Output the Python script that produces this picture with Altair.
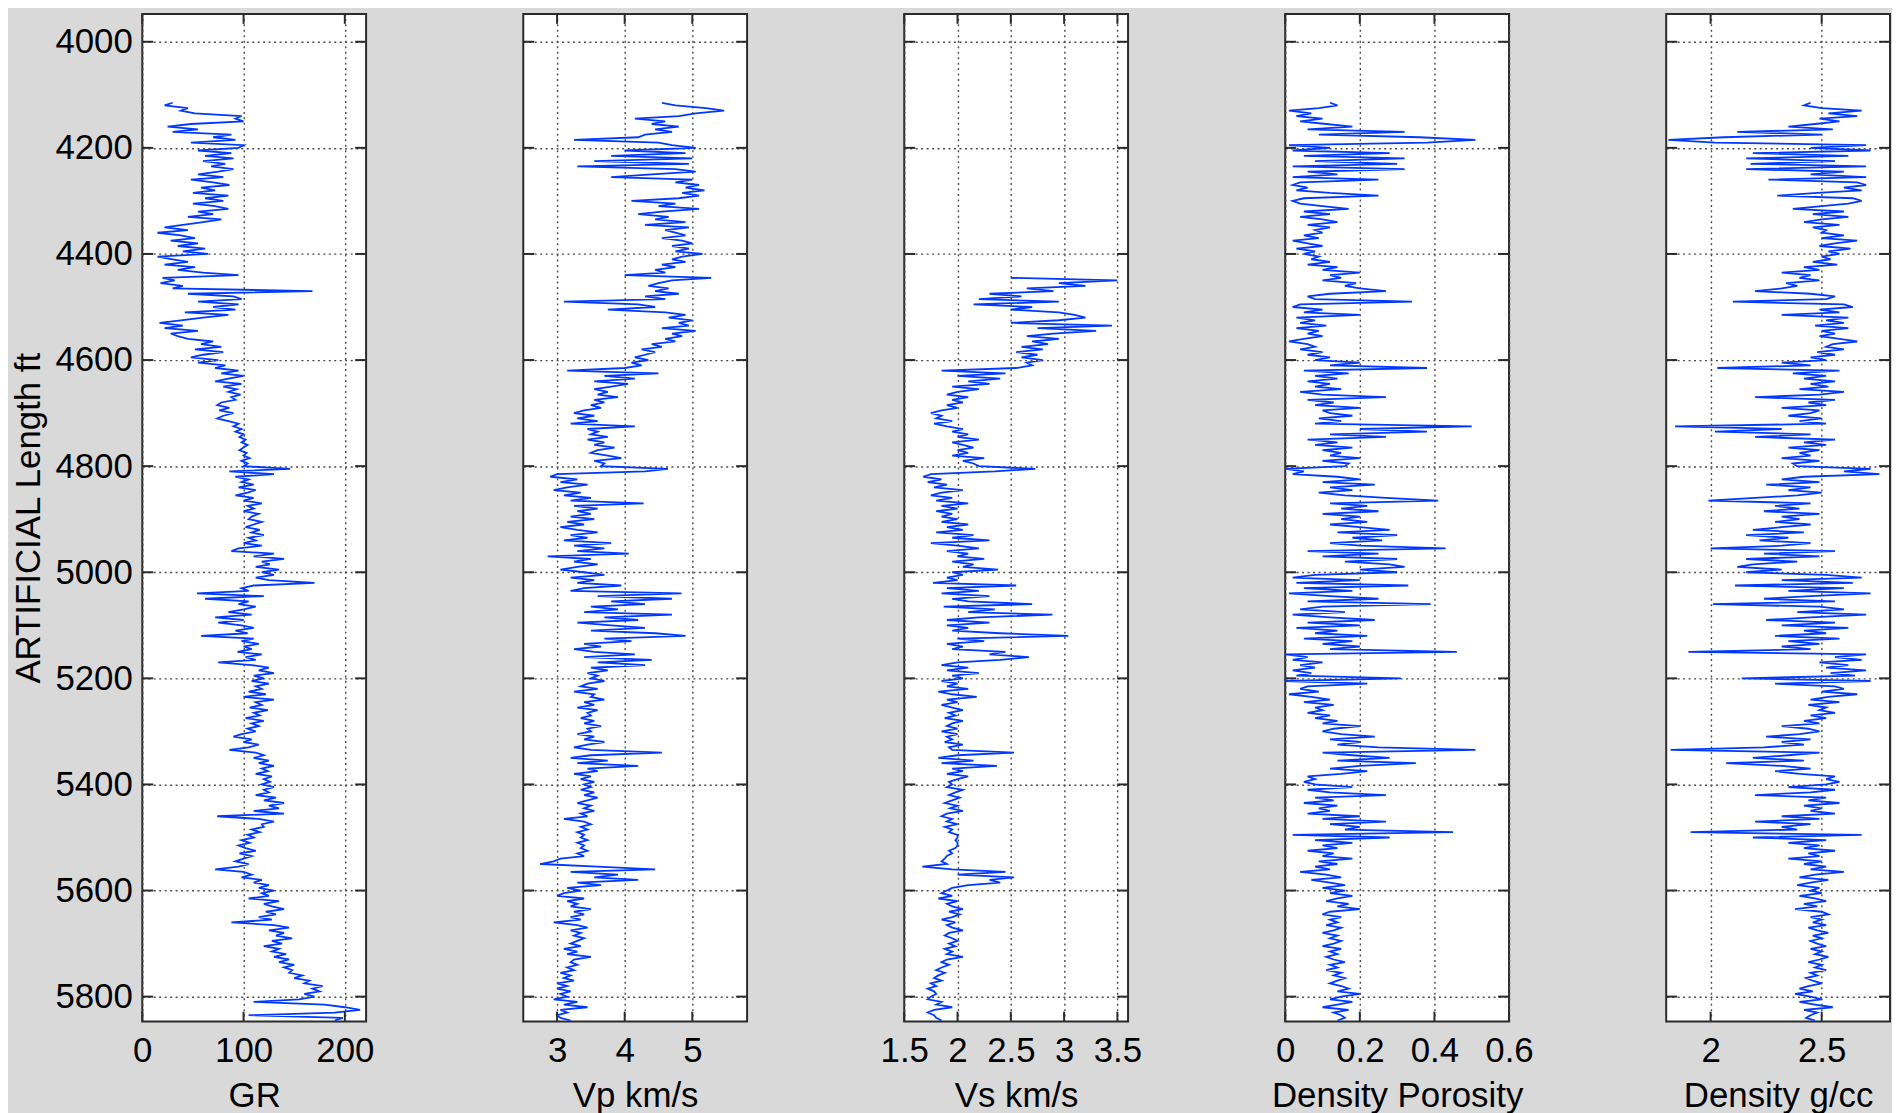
import altair as alt
import pandas as pd

# ---------------- data (5 ft sampling) ----------------
DEPTH_START = 4115   # first sample of GR, Vp, DPHI, RHOB
VS_START = 4445      # first sample of Vs
STEP = 5

GR = [
    30, 22, 45, 38, 52, 98, 92, 100, 48, 25, 55, 30, 88, 70, 92, 48, 100,
    95, 55, 88, 62, 90, 60, 82, 68, 90, 75, 55, 80, 48, 70, 86, 58, 72, 50, 85, 62,
    80, 50, 72, 85, 55, 70, 45, 78, 60, 40, 22, 45, 15, 38, 52, 28, 55, 35, 62, 40,
    65, 15, 30, 45, 22, 52, 35, 60, 95, 20, 32, 18, 40, 30, 168, 45, 90, 98, 55, 95,
    70, 92, 42, 85, 60, 38, 17, 40, 22, 55, 28, 35, 45, 70, 58, 78, 52, 80, 60, 48,
    75, 55, 82, 72, 95, 78, 100, 85, 72, 98, 80, 93, 85, 97, 88, 92, 78, 74, 86, 76,
    90, 80, 74, 85, 95, 90, 98, 92, 100, 96, 102, 98, 104, 100, 96, 103, 100, 106, 98, 104,
    100, 146, 86, 130, 92, 105, 98, 110, 95, 112, 104, 92, 110, 100, 118, 104, 110, 100, 115, 108,
    105, 118, 110, 102, 116, 108, 120, 105, 112, 100, 118, 95, 88, 130, 110, 140, 118, 126, 112, 135,
    118, 130, 112, 125, 170, 110, 98, 105, 54, 120, 62, 105, 95, 112, 100, 85, 108, 72, 100, 75,
    98, 110, 92, 104, 58, 110, 98, 115, 100, 108, 94, 118, 102, 112, 75, 108, 125, 115, 130, 110,
    120, 108, 125, 112, 118, 105, 122, 100, 130, 112, 118, 106, 124, 110, 116, 102, 120, 108, 115, 104,
    112, 98, 90, 108, 100, 115, 105, 86, 112, 120, 110, 125, 115, 130, 118, 124, 112, 128, 120, 126,
    118, 130, 120, 125, 112, 132, 120, 140, 125, 135, 110, 140, 74, 115, 130, 118, 120, 108, 116, 104,
    110, 98, 106, 95, 102, 112, 96, 108, 100, 92, 105, 95, 72, 100, 108, 98, 118, 110, 125, 115,
    130, 118, 125, 105, 135, 120, 128, 140, 122, 132, 115, 128, 88, 130, 145, 125, 140, 132, 148, 128,
    138, 120, 135, 128, 142, 130, 145, 135, 150, 140, 148, 145, 158, 150, 165, 160, 178, 168, 175, 160,
    170, 155, 110, 180, 200, 215, 190, 105, 198, 190,
]

VP = [
    4.55, 4.75, 5.2, 5.47, 5.05, 4.8, 4.15, 4.6, 4.4, 4.8, 4.45, 4.7, 4.3, 4.2, 3.25, 4.5, 4.7,
    5.05, 4.0, 4.9, 3.8, 5.0, 3.55, 4.95, 3.3, 4.75, 5.05, 4.4, 3.8, 5.0, 4.75, 5.1, 4.9, 5.18, 4.85, 5.1, 4.8,
    4.1, 4.75, 4.5, 5.1, 4.55, 4.2, 4.65, 4.45, 4.9, 4.3, 4.95, 4.6, 4.75, 4.9, 4.55, 4.85, 5.0, 4.7, 4.95, 4.75,
    5.15, 4.85, 4.7, 4.9, 4.55, 4.75, 4.45, 4.6, 4.0, 5.28, 4.7, 4.5, 4.35, 4.65, 4.45, 4.8, 4.3, 4.6, 3.1, 4.2,
    4.45, 3.75, 4.6, 4.9, 4.65, 5.0, 4.8, 4.95, 4.55, 5.05, 4.7, 4.85, 4.6, 4.75, 4.4, 4.55, 4.25, 4.45, 4.3, 4.15,
    4.35, 4.1, 4.25, 4.0, 3.15, 4.5, 3.7, 4.15, 3.55, 4.05, 3.8, 3.55, 3.75, 3.6, 3.9, 3.55, 3.7, 3.5, 3.65, 3.4,
    3.25, 3.55, 3.3, 3.6, 3.2, 4.15, 3.45, 3.6, 3.5, 3.75, 3.45, 3.7, 3.55, 3.85, 3.6, 3.5, 3.75, 3.95, 3.55, 3.7,
    3.65, 4.64, 4.3, 3.0, 2.9, 3.3, 3.05, 3.45, 3.15, 2.95, 3.35, 3.1, 3.5, 3.2, 4.28, 3.25, 3.6, 3.3, 3.5, 3.2,
    3.55, 3.15, 3.4, 3.05, 3.3, 3.6, 3.2, 3.45, 3.1, 3.8, 3.25, 3.7, 3.3, 4.06, 2.86, 3.5, 3.25, 3.6, 3.3, 3.05,
    3.4, 3.7, 3.2, 3.55, 3.3, 3.95, 3.4, 3.2, 4.84, 3.6, 4.7, 3.8, 4.3, 3.5, 3.9, 3.4, 4.7, 3.7, 4.2, 3.3,
    3.8, 4.3, 3.5, 4.45, 4.9, 3.7, 4.1, 3.4, 3.65, 3.25, 3.55, 4.15, 3.4, 4.4, 3.6, 4.3, 3.5, 3.75, 3.45, 3.6,
    3.5, 3.7, 3.45, 3.35, 3.6, 3.25, 3.55, 3.5, 3.7, 3.4, 3.55, 3.3, 3.6, 3.45, 3.5, 3.35, 3.55, 3.4, 3.65, 3.45,
    3.5, 3.3, 3.55, 3.4, 3.7, 3.45, 3.25, 3.5, 4.55, 3.5, 3.2, 3.75, 3.3, 4.2, 3.45, 3.6, 3.25, 3.5, 3.35, 3.55,
    3.4, 3.5, 3.35, 3.55, 3.4, 3.6, 3.45, 3.3, 3.5, 3.4, 3.55, 3.35, 3.45, 3.1, 3.4, 3.5, 3.35, 3.45, 3.3, 3.4,
    3.35, 3.45, 3.3, 3.4, 3.35, 3.45, 3.3, 3.4, 3.05, 2.95, 2.75, 3.6, 4.45, 3.2, 3.9, 3.55, 4.2, 3.3, 3.65, 3.15,
    3.35, 3.1, 3.0, 3.4, 3.15, 3.3, 3.2, 3.5, 3.25, 3.4, 3.2, 3.35, 2.95, 3.3, 3.45, 3.2, 3.35, 3.25, 3.4, 3.3,
    3.2, 3.35, 3.1, 3.3, 3.15, 3.5, 3.25, 3.2, 3.3, 3.15, 3.25, 3.05, 3.2, 3.1, 3.25, 3.0, 3.15, 3.0, 3.2, 3.05,
    3.15, 2.95, 3.3, 3.1, 3.45, 3.05, 3.15, 3.0, 3.05, 3.2,
]

VS = [
    2.5, 3.5, 2.95, 3.2, 2.65, 2.9, 2.3, 2.6, 2.2, 2.95, 2.15,
    2.7, 2.5, 2.95, 3.1, 3.2, 2.95, 2.5, 3.45, 2.75, 3.3, 2.9, 2.65, 2.95, 2.7, 2.85, 2.6, 2.8, 2.55, 2.75, 2.6,
    2.8, 2.65, 2.7, 2.55, 1.85, 2.45, 2.0, 2.4, 2.1, 2.3, 1.95, 2.2, 2.0, 1.9, 2.1, 1.95, 2.05, 1.9, 2.0, 1.85,
    1.75, 1.85, 1.8, 1.95, 1.78, 1.9, 2.05, 1.95, 2.1, 2.0, 2.2, 1.95, 2.05, 2.15, 2.0, 2.1, 1.95, 2.25, 2.05, 2.15,
    2.2, 2.73, 2.35, 1.75, 1.68, 1.85, 1.72, 1.9, 1.78, 2.05, 1.85, 1.75, 1.95, 1.8, 2.1, 1.85, 2.0, 1.8, 1.95, 1.85,
    2.0, 1.85, 2.1, 1.9, 2.05, 1.8, 2.15, 1.95, 2.3, 1.75, 2.0, 2.2, 1.9, 2.1, 2.0, 2.25, 1.95, 2.15, 2.05, 2.38,
    1.95, 2.05, 1.9, 2.0, 1.77, 2.55, 1.9, 2.2, 1.85, 2.3, 1.95, 2.1, 2.7, 1.87, 2.35, 2.1, 2.89, 2.2, 1.9, 2.3,
    1.9, 2.1, 1.95, 2.4, 3.04, 2.0, 2.25, 1.9, 2.05, 1.95, 2.45, 2.3, 2.67, 2.4, 2.0, 1.85, 2.1, 1.9, 2.2, 1.95,
    2.05, 1.85, 2.0, 1.9, 2.1, 1.82, 1.95, 2.18, 1.9, 2.0, 1.85, 1.95, 2.05, 1.92, 1.98, 1.88, 2.05, 1.95, 1.9, 2.0,
    1.85, 2.0, 1.9, 1.95, 1.88, 2.05, 1.92, 1.95, 2.53, 2.0, 1.82, 2.15, 1.85, 2.37, 1.95, 2.05, 1.9, 2.1, 2.0, 1.92,
    1.95, 1.9, 2.05, 1.98, 1.92, 2.02, 1.95, 1.88, 2.0, 1.93, 2.05, 1.9, 1.85, 1.95, 1.9, 2.0, 1.88, 1.95, 1.92, 2.0,
    2.0, 1.98, 2.0, 2.0, 1.98, 1.92, 1.95, 1.9, 1.88, 1.85, 1.9, 1.67, 1.95, 2.45, 2.0, 2.53, 2.3, 2.4, 2.1, 1.95,
    1.9, 1.85, 1.95, 1.82, 2.0, 1.9, 1.95, 2.05, 1.92, 2.02, 1.95, 1.85, 1.98, 1.9, 1.95, 2.05, 1.92, 1.88, 1.95, 2.0,
    1.92, 1.98, 1.88, 1.95, 1.9, 2.05, 1.9, 1.85, 1.92, 1.85, 1.8, 1.88, 1.82, 1.78, 1.85, 1.75, 1.8, 1.72, 1.78, 1.8,
    1.75, 1.72, 1.85, 1.8, 1.95, 1.78, 1.72, 1.78, 1.8, 1.85,
]

DPHI = [
    0.12, 0.14, 0.09, 0.01, 0.07, 0.03, 0.10, 0.04, 0.11, 0.18, 0.06, 0.32, 0.09, 0.36, 0.51, 0.38, 0.01,
    0.12, 0.02, 0.28, 0.05, 0.32, 0.08, 0.30, 0.02, 0.32, 0.06, 0.14, 0.02, 0.25, 0.04, 0.02, 0.06, 0.03, 0.12, 0.25, 0.05,
    0.02, 0.04, 0.10, 0.17, 0.05, 0.12, 0.04, 0.10, 0.14, 0.06, 0.12, 0.08, 0.10, 0.05, 0.09, 0.02, 0.06, 0.10, 0.03, 0.08,
    0.05, 0.09, 0.07, 0.12, 0.06, 0.14, 0.10, 0.20, 0.12, 0.15, 0.10, 0.19, 0.16, 0.20, 0.27, 0.12, 0.06, 0.08, 0.34, 0.04,
    0.02, 0.10, 0.05, 0.20, 0.03, 0.08, 0.04, 0.11, 0.03, 0.09, 0.06, 0.10, 0.05, 0.01, 0.06, 0.08, 0.04, 0.10, 0.06, 0.12,
    0.08, 0.20, 0.12, 0.38, 0.05, 0.17, 0.08, 0.14, 0.06, 0.12, 0.08, 0.15, 0.04, 0.10, 0.27, 0.06, 0.13, 0.08, 0.20, 0.10,
    0.12, 0.18, 0.09, 0.15, 0.08, 0.50, 0.20, 0.38, 0.12, 0.27, 0.06, 0.14, 0.08, 0.18, 0.10, 0.15, 0.12, 0.20, 0.10, 0.17,
    0.16, 0.00, 0.05, 0.02, 0.14, 0.20, 0.10, 0.24, 0.12, 0.18, 0.09, 0.16, 0.27, 0.41, 0.12, 0.22, 0.15, 0.25, 0.10, 0.20,
    0.15, 0.22, 0.12, 0.20, 0.28, 0.14, 0.30, 0.18, 0.26, 0.12, 0.20, 0.43, 0.06, 0.25, 0.10, 0.30, 0.16, 0.28, 0.32, 0.20,
    0.30, 0.08, 0.02, 0.20, 0.03, 0.33, 0.05, 0.18, 0.01, 0.12, 0.25, 0.06, 0.39, 0.10, 0.04, 0.16, 0.02, 0.12, 0.24, 0.06,
    0.20, 0.03, 0.14, 0.08, 0.22, 0.05, 0.18, 0.10, 0.20, 0.12, 0.46, 0.00, 0.06, 0.02, 0.10, 0.04, 0.08, 0.02, 0.07, 0.03,
    0.31, 0.00, 0.22, 0.06, 0.04, 0.09, 0.01, 0.07, 0.12, 0.05, 0.13, 0.08, 0.10, 0.06, 0.12, 0.08, 0.14, 0.10, 0.20, 0.13,
    0.10, 0.15, 0.24, 0.12, 0.20, 0.14, 0.25, 0.51, 0.10, 0.18, 0.28, 0.14, 0.35, 0.20, 0.12, 0.22, 0.15, 0.06, 0.08, 0.05,
    0.08, 0.18, 0.06, 0.12, 0.27, 0.08, 0.13, 0.05, 0.14, 0.09, 0.12, 0.06, 0.20, 0.10, 0.27, 0.12, 0.20, 0.16, 0.45, 0.02,
    0.28, 0.08, 0.18, 0.10, 0.14, 0.06, 0.13, 0.10, 0.18, 0.09, 0.14, 0.08, 0.12, 0.04, 0.11, 0.15, 0.07, 0.12, 0.16, 0.10,
    0.16, 0.12, 0.18, 0.14, 0.11, 0.17, 0.14, 0.20, 0.12, 0.10, 0.15, 0.12, 0.14, 0.11, 0.15, 0.13, 0.10, 0.14, 0.12, 0.15,
    0.13, 0.10, 0.15, 0.12, 0.14, 0.11, 0.13, 0.16, 0.12, 0.14, 0.11, 0.15, 0.13, 0.16, 0.14, 0.12, 0.15, 0.17, 0.14, 0.20,
    0.15, 0.12, 0.18, 0.14, 0.10, 0.17, 0.13, 0.15, 0.16, 0.14,
]

RHOB = [
    2.45, 2.42, 2.5, 2.68, 2.53, 2.66, 2.49, 2.58, 2.47, 2.35, 2.55, 2.12, 2.5, 2.06, 1.81, 2.02, 2.7,
    2.45, 2.72, 2.19, 2.62, 2.16, 2.56, 2.18, 2.7, 2.16, 2.6, 2.45, 2.7, 2.26, 2.66, 2.7, 2.6, 2.68, 2.48, 2.3, 2.64,
    2.68, 2.62, 2.5, 2.37, 2.6, 2.46, 2.62, 2.5, 2.42, 2.58, 2.46, 2.52, 2.5, 2.6, 2.5, 2.66, 2.56, 2.49, 2.63, 2.53,
    2.58, 2.5, 2.54, 2.46, 2.57, 2.42, 2.49, 2.32, 2.45, 2.4, 2.49, 2.34, 2.39, 2.32, 2.2, 2.45, 2.56, 2.52, 2.1, 2.6,
    2.64, 2.49, 2.58, 2.32, 2.62, 2.52, 2.6, 2.47, 2.62, 2.5, 2.56, 2.49, 2.58, 2.66, 2.55, 2.52, 2.6, 2.48, 2.56, 2.45,
    2.52, 2.32, 2.45, 2.03, 2.58, 2.37, 2.52, 2.42, 2.56, 2.45, 2.53, 2.4, 2.6, 2.49, 2.2, 2.56, 2.44, 2.52, 2.32, 2.49,
    2.45, 2.35, 2.5, 2.4, 2.52, 1.84, 2.32, 2.02, 2.45, 2.2, 2.56, 2.42, 2.52, 2.35, 2.49, 2.4, 2.45, 2.32, 2.49, 2.37,
    2.39, 2.72, 2.6, 2.76, 2.42, 2.32, 2.49, 2.25, 2.45, 2.35, 2.5, 2.39, 2.2, 1.99, 2.45, 2.29, 2.4, 2.24, 2.49, 2.32,
    2.4, 2.29, 2.45, 2.32, 2.19, 2.42, 2.16, 2.35, 2.22, 2.45, 2.32, 2.0, 2.56, 2.24, 2.49, 2.16, 2.39, 2.19, 2.12, 2.32,
    2.16, 2.52, 2.68, 2.32, 2.64, 2.11, 2.6, 2.35, 2.72, 2.45, 2.24, 2.56, 2.01, 2.49, 2.6, 2.39, 2.7, 2.45, 2.25, 2.56,
    2.32, 2.62, 2.42, 2.52, 2.29, 2.58, 2.35, 2.49, 2.32, 2.45, 1.9, 2.7, 2.56, 2.68, 2.49, 2.62, 2.52, 2.7, 2.54, 2.65,
    2.14, 2.72, 2.29, 2.56, 2.6, 2.5, 2.66, 2.53, 2.45, 2.58, 2.44, 2.52, 2.49, 2.56, 2.45, 2.52, 2.42, 2.49, 2.32, 2.44,
    2.49, 2.4, 2.25, 2.45, 2.32, 2.42, 2.24, 1.82, 2.49, 2.35, 2.19, 2.42, 2.07, 2.32, 2.45, 2.29, 2.4, 2.56, 2.52, 2.58,
    2.52, 2.35, 2.56, 2.45, 2.2, 2.52, 2.44, 2.58, 2.42, 2.5, 2.45, 2.56, 2.32, 2.49, 2.2, 2.45, 2.32, 2.39, 1.91, 2.68,
    2.19, 2.52, 2.35, 2.49, 2.42, 2.56, 2.44, 2.49, 2.35, 2.5, 2.42, 2.52, 2.45, 2.6, 2.47, 2.4, 2.53, 2.45, 2.39, 2.49,
    2.45, 2.5, 2.4, 2.47, 2.52, 2.42, 2.48, 2.38, 2.5, 2.53, 2.45, 2.5, 2.46, 2.52, 2.44, 2.48, 2.53, 2.46, 2.5, 2.45,
    2.48, 2.52, 2.45, 2.5, 2.47, 2.53, 2.49, 2.44, 2.5, 2.47, 2.52, 2.45, 2.48, 2.43, 2.46, 2.5, 2.44, 2.4, 2.46, 2.38,
    2.45, 2.5, 2.4, 2.47, 2.55, 2.42, 2.48, 2.45, 2.43, 2.47,
]

Y_TICKS = [4000, 4200, 4400, 4600, 4800, 5000, 5200, 5400, 5600, 5800]
Y_DOMAIN = [3947.5, 5847]
GR_TICKS = [0, 100, 200]
VP_TICKS = [3, 4, 5]
VS_TICKS = [1.5, 2, 2.5, 3, 3.5]
DPHI_TICKS = [0, 0.2, 0.4, 0.6]
RHOB_TICKS = [2, 2.5]

# ---------------- styling ----------------
W, H = 225, 1013
BLUE = "#0038ff"
FRAME = "#2b2b2b"
FONT = "Liberation Sans"
FS = 35


def panel(values, start, domain, ticks, title, first=False):
    df = pd.DataFrame({"depth": [start + STEP * i for i in range(len(values))],
                       "v": values})
    xs = alt.Scale(domain=domain, nice=False, zero=False)
    ys = alt.Scale(domain=Y_DOMAIN, nice=False, zero=False, reverse=True)
    if first:
        yaxis = alt.Axis(values=Y_TICKS, title="ARTIFICIAL Length ft", grid=True,
                         ticks=False, domain=False, format="d", labelPadding=10,
                         titlePadding=8)
    else:
        yaxis = alt.Axis(values=Y_TICKS, title=None, labels=False, grid=True,
                         ticks=False, domain=False)
    xaxis = alt.Axis(values=ticks, title=title, grid=True, ticks=False,
                     domain=False, format="~r", labelFlush=False,
                     labelOverlap=False)
    line = alt.Chart(df).mark_line(color=BLUE, strokeWidth=1.8, clip=True).encode(
        x=alt.X("v:Q", scale=xs, axis=xaxis),
        y=alt.Y("depth:Q", scale=ys, axis=yaxis),
        order=alt.Order("depth:Q"),
    )
    ydf = pd.DataFrame({"v": Y_TICKS, "depth": Y_TICKS})
    xdf = pd.DataFrame({"v": ticks, "depth": ticks})
    rule = dict(color=FRAME, strokeWidth=2)
    yl = alt.Chart(ydf).mark_rule(**rule).encode(
        y=alt.Y("depth:Q", scale=ys, axis=yaxis), x=alt.value(0), x2=alt.value(11))
    yr = alt.Chart(ydf).mark_rule(**rule).encode(
        y=alt.Y("depth:Q", scale=ys, axis=yaxis), x=alt.value(W - 11), x2=alt.value(W))
    xt = alt.Chart(xdf).mark_rule(**rule).encode(
        x=alt.X("v:Q", scale=xs, axis=xaxis), y=alt.value(0), y2=alt.value(10))
    xb = alt.Chart(xdf).mark_rule(**rule).encode(
        x=alt.X("v:Q", scale=xs, axis=xaxis), y=alt.value(H - 10), y2=alt.value(H))
    return alt.layer(line, yl, yr, xt, xb).properties(width=W, height=H)


panels = [
    panel(GR, DEPTH_START, [0, 221], GR_TICKS, "GR", first=True),
    panel(VP, DEPTH_START, [2.5, 5.81], VP_TICKS, "Vp km/s"),
    panel(VS, VS_START, [1.5, 3.6], VS_TICKS, "Vs km/s"),
    panel(DPHI, DEPTH_START, [0, 0.6], DPHI_TICKS, "Density Porosity"),
    panel(RHOB, DEPTH_START, [1.8, 2.8076], RHOB_TICKS, "Density g/cc"),
]

chart = alt.hconcat(
    *panels, spacing=158, bounds="flush",
    background="#d9d9d9",
    padding={"left": 3, "top": 1, "right": 0, "bottom": 0},
).configure(
    font=FONT,
).configure_axis(
    labelFont=FONT, titleFont=FONT, labelFontSize=FS, titleFontSize=FS,
    labelColor="black", titleColor="black", titleFontWeight="normal",
    gridColor="#4a4a4a", gridDash=[2, 3.5], gridWidth=1.4, gridOpacity=1,
).configure_axisX(
    labelPadding=12, titlePadding=10,
).configure_view(
    stroke=FRAME, strokeWidth=2, fill="white",
)

chart.save("out.html", embed_options={"renderer": "svg", "actions": False})
